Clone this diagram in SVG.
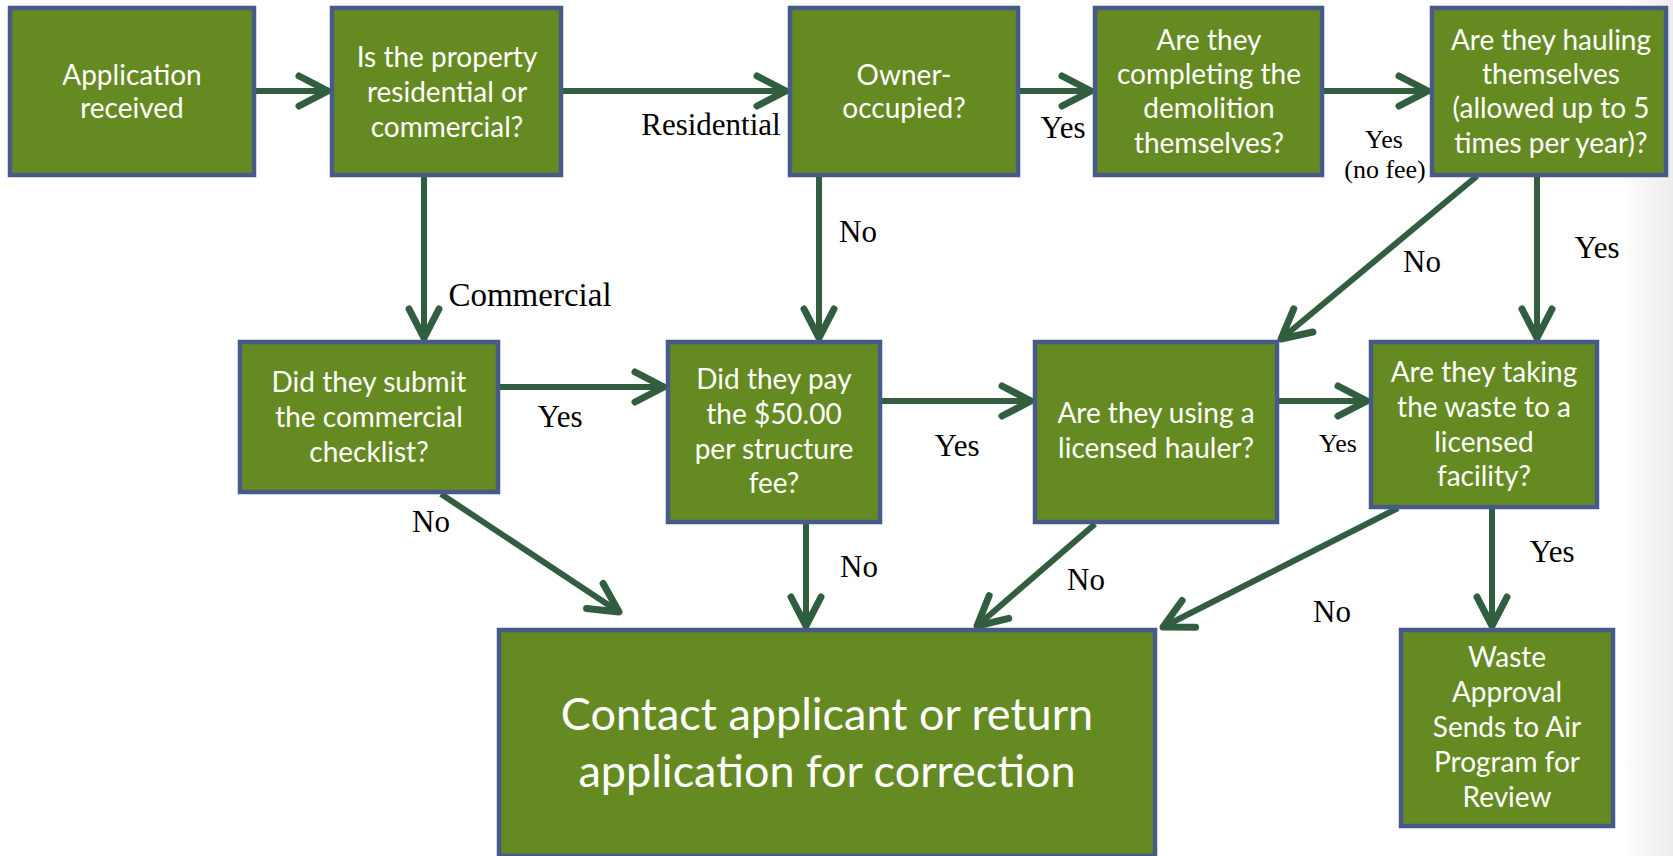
<svg xmlns="http://www.w3.org/2000/svg" width="1673" height="856" viewBox="0 0 1673 856">
<defs>
<style>
.box{fill:#668A22;stroke:#485A8A;stroke-width:4.5}
.t{font-family:Lato,"Open Sans",sans-serif;font-size:28px;fill:#ffffff;text-anchor:middle}
.big{font-size:45px}
.lbl{font-family:"Liberation Serif","Times New Roman",serif;font-size:31px;fill:#000;text-anchor:middle}
.sm{font-size:26px}
.c{stroke:#325E40;stroke-width:6;fill:none}
</style>
<marker id="ah" markerUnits="userSpaceOnUse" markerWidth="60" markerHeight="60" refX="0" refY="0" viewBox="-40 -30 50 60" orient="auto">
<path d="M-29,-15 L0,0 L-29,15" fill="none" stroke="#325E40" stroke-width="7" stroke-linecap="round" stroke-linejoin="round"/>
</marker>
<linearGradient id="edge" x1="0" y1="0" x2="1" y2="0">
<stop offset="0" stop-color="#ffffff"/>
<stop offset="1" stop-color="#ececec"/>
</linearGradient>
</defs>
<rect x="0" y="0" width="1673" height="856" fill="#ffffff"/>
<rect x="1620" y="0" width="53" height="856" fill="url(#edge)"/>

<g id="connectors">
<line class="c" x1="256" y1="91" x2="328" y2="91" marker-end="url(#ah)"/>
<line class="c" x1="563" y1="91" x2="786" y2="91" marker-end="url(#ah)"/>
<line class="c" x1="1020" y1="91" x2="1091" y2="91" marker-end="url(#ah)"/>
<line class="c" x1="1324" y1="91" x2="1428" y2="91" marker-end="url(#ah)"/>
<line class="c" x1="424" y1="177" x2="424" y2="338" marker-end="url(#ah)"/>
<line class="c" x1="819" y1="177" x2="819" y2="338" marker-end="url(#ah)"/>
<line class="c" x1="1477" y1="176" x2="1281" y2="339" marker-end="url(#ah)"/>
<line class="c" x1="1537" y1="177" x2="1537" y2="338" marker-end="url(#ah)"/>
<line class="c" x1="500" y1="387" x2="664" y2="387" marker-end="url(#ah)"/>
<line class="c" x1="882" y1="401" x2="1031" y2="401" marker-end="url(#ah)"/>
<line class="c" x1="1279" y1="401" x2="1367" y2="401" marker-end="url(#ah)"/>
<line class="c" x1="441" y1="494" x2="619" y2="612" marker-end="url(#ah)"/>
<line class="c" x1="806" y1="524" x2="806" y2="626" marker-end="url(#ah)"/>
<line class="c" x1="1095" y1="524" x2="977" y2="626" marker-end="url(#ah)"/>
<line class="c" x1="1398" y1="508" x2="1163" y2="627" marker-end="url(#ah)"/>
<line class="c" x1="1492" y1="509" x2="1492" y2="626" marker-end="url(#ah)"/>
</g>

<g id="labels">
<text class="lbl" x="711" y="135">Residential</text>
<text class="lbl" x="1063" y="138">Yes</text>
<text class="lbl sm" x="1384" y="148">Yes</text>
<text class="lbl sm" x="1385" y="178">(no fee)</text>
<text class="lbl" x="858" y="242">No</text>
<text class="lbl" x="530" y="306" style="font-size:33px">Commercial</text>
<text class="lbl" x="1422" y="272">No</text>
<text class="lbl" x="1597" y="258">Yes</text>
<text class="lbl" x="560" y="427">Yes</text>
<text class="lbl" x="431" y="532">No</text>
<text class="lbl" x="957" y="456">Yes</text>
<text class="lbl sm" x="1338" y="452">Yes</text>
<text class="lbl" x="859" y="577">No</text>
<text class="lbl" x="1086" y="590">No</text>
<text class="lbl" x="1332" y="622">No</text>
<text class="lbl" x="1552" y="562">Yes</text>
</g>

<g id="n1"><rect class="box" x="10" y="8" width="244" height="167"/>
<text class="t" x="132" y="85">Application</text><text class="t" x="132" y="118">received</text></g>

<g id="n2"><rect class="box" x="332" y="8" width="229" height="167"/>
<text class="t" x="447" y="67">Is the property</text><text class="t" x="447" y="102">residential or</text><text class="t" x="447" y="137">commercial?</text></g>

<g id="n3"><rect class="box" x="790" y="8" width="228" height="167"/>
<text class="t" x="904" y="85">Owner-</text><text class="t" x="904" y="118">occupied?</text></g>

<g id="n4"><rect class="box" x="1095" y="8" width="227" height="167"/>
<text class="t" x="1209" y="50">Are they</text><text class="t" x="1209" y="84">completing the</text><text class="t" x="1209" y="118">demolition</text><text class="t" x="1209" y="153">themselves?</text></g>

<g id="n5"><rect class="box" x="1432" y="8" width="234" height="167"/>
<text class="t" x="1551" y="50">Are they hauling</text><text class="t" x="1551" y="84">themselves</text><text class="t" x="1551" y="118">(allowed up to 5</text><text class="t" x="1551" y="153">times per year)?</text></g>

<g id="n6"><rect class="box" x="240" y="342" width="258" height="150"/>
<text class="t" x="369" y="392">Did they submit</text><text class="t" x="369" y="427">the commercial</text><text class="t" x="369" y="462">checklist?</text></g>

<g id="n7"><rect class="box" x="668" y="342" width="212" height="180"/>
<text class="t" x="774" y="389">Did they pay</text><text class="t" x="774" y="424">the $50.00</text><text class="t" x="774" y="459">per structure</text><text class="t" x="774" y="493">fee?</text></g>

<g id="n8"><rect class="box" x="1035" y="342" width="242" height="180"/>
<text class="t" x="1156" y="423">Are they using a</text><text class="t" x="1156" y="458">licensed hauler?</text></g>

<g id="n9"><rect class="box" x="1371" y="342" width="226" height="165"/>
<text class="t" x="1484" y="382">Are they taking</text><text class="t" x="1484" y="417">the waste to a</text><text class="t" x="1484" y="452">licensed</text><text class="t" x="1484" y="486">facility?</text></g>

<g id="n10"><rect class="box" x="499" y="630" width="656" height="226"/>
<text class="t big" x="827" y="730">Contact applicant or return</text><text class="t big" x="827" y="787">application for correction</text></g>

<g id="n11"><rect class="box" x="1401" y="630" width="212" height="196"/>
<text class="t" x="1507" y="667">Waste</text><text class="t" x="1507" y="702">Approval</text><text class="t" x="1507" y="737">Sends to Air</text><text class="t" x="1507" y="772">Program for</text><text class="t" x="1507" y="807">Review</text></g>
</svg>
